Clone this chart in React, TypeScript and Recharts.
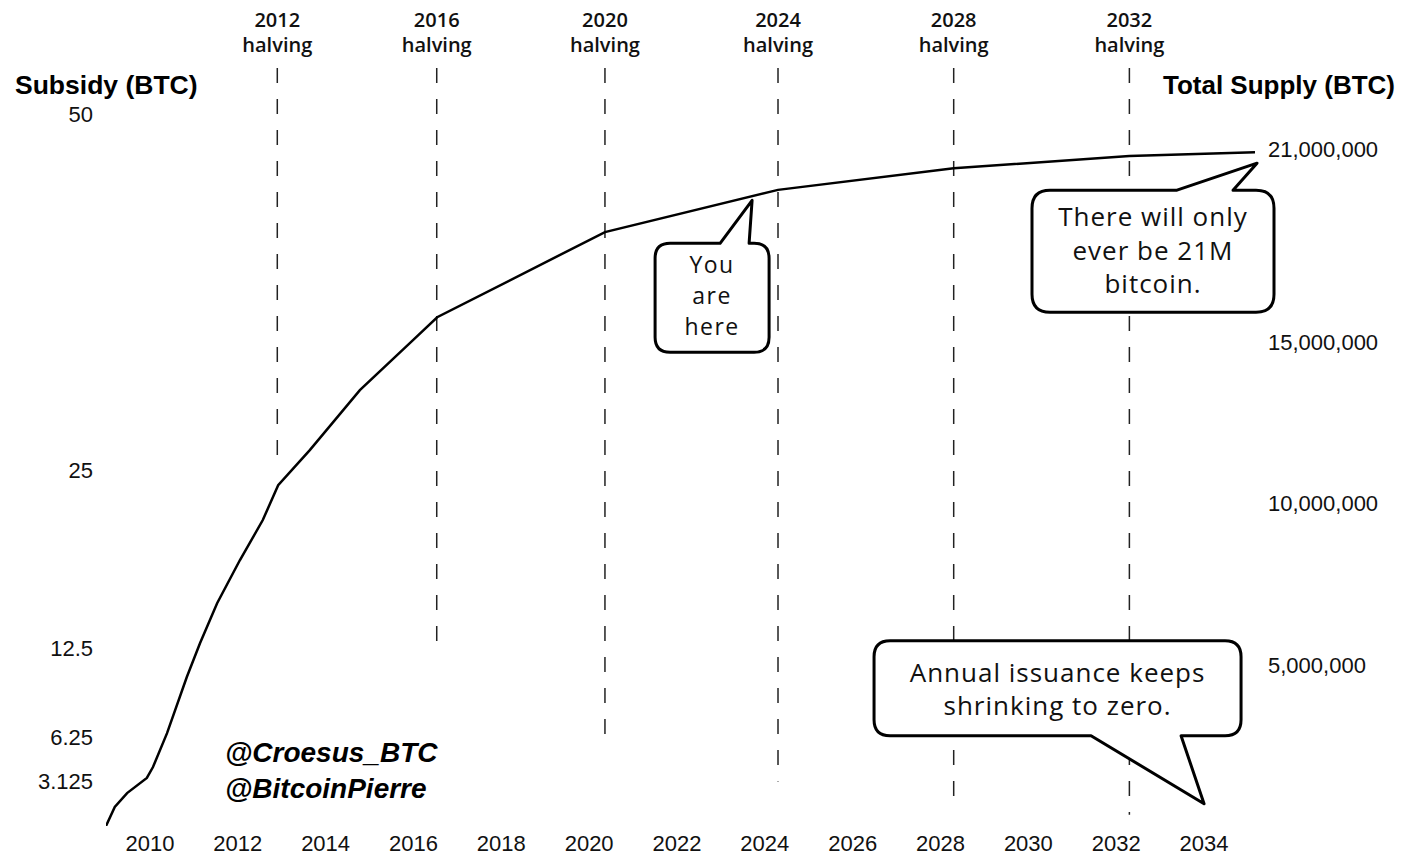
import React from 'react';
import { LineChart, Line, XAxis, YAxis, ReferenceLine, ReferenceDot } from 'recharts';

// Total supply curve (year, BTC)
const YEARS = [
  2009.0, 2009.2, 2009.48, 2009.93, 2010.07, 2010.39, 2010.84, 2011.14, 2011.53, 2012.05,
  2012.57, 2012.92, 2013.64, 2014.78, 2015.99, 2016.54, 2020.36, 2024.3, 2028.3, 2032.3, 2035.16,
];
const SUPPLY = [
  0, 590000, 1020000, 1490000, 1830000, 2880000, 4620000, 5670000, 6910000, 8250000,
  9490000, 10570000, 11660000, 13520000, 15070000, 15780000, 18420000, 19730000, 20400000, 20780000, 20900000,
];

const HALVING_YEARS = [2012.9, 2016.53, 2020.36, 2024.3, 2028.3, 2032.3];
const HALVING_LABELS = ['2012', '2016', '2020', '2024', '2028', '2032'];
const HALVING_SUBSIDY = [25, 12.5, 6.25, 3.125, 1.5625, 0.78125];

const YEAR_TICKS = [2010, 2012, 2014, 2016, 2018, 2020, 2022, 2024, 2026, 2028, 2030, 2032, 2034];
const SUBSIDY_TICKS = [3.125, 6.25, 12.5, 25, 50];
const SUPPLY_TICKS = [5000000, 10000000, 15000000, 21000000];

const X_DOMAIN = [2009, 2035.16];
const SUBSIDY_MAX = 53.23;
const SUPPLY_MAX = 23510000;

const data = YEARS.map((year, i) => ({ year, supply: SUPPLY[i] }));

const ROUND = '"Open Sans", "Noto Sans", sans-serif';
const ARIAL = '"Liberation Sans", Arial, sans-serif';

// rounded box with a tail on its top or bottom edge
const bubblePath = (l: number, t: number, r: number, b: number, rad: number,
  side: 'top' | 'bottom', baseA: number, baseB: number, tx: number, ty: number) => {
  if (side === 'top') {
    return `M${baseA},${t} L${l + rad},${t} Q${l},${t} ${l},${t + rad} L${l},${b - rad} Q${l},${b} ${l + rad},${b}` +
      ` L${r - rad},${b} Q${r},${b} ${r},${b - rad} L${r},${t + rad} Q${r},${t} ${r - rad},${t} L${baseB},${t} L${tx},${ty} Z`;
  }
  return `M${l + rad},${t} L${r - rad},${t} Q${r},${t} ${r},${t + rad} L${r},${b - rad} Q${r},${b} ${r - rad},${b}` +
    ` L${baseB},${b} L${tx},${ty} L${baseA},${b} L${l + rad},${b} Q${l},${b} ${l},${b - rad} L${l},${t + rad} Q${l},${t} ${l + rad},${t} Z`;
};

const bubbleText = { fontFamily: ROUND, fontSize: 26, letterSpacing: 1, fill: '#111' };

const HalvingLabel = (label: string) => (props: any) => (
  <g>
    <text x={props.cx} y={props.cy - 41} textAnchor="middle" fontFamily={ROUND} fontSize={20} fontWeight={600} fill="#111">{label}</text>
    <text x={props.cx} y={props.cy - 16} textAnchor="middle" fontFamily={ROUND} fontSize={20} fontWeight={600} fill="#111">halving</text>
  </g>
);

const HereBubble = (props: any) => {
  const tx = props.cx, ty = props.cy + 4;
  const l = tx - 97, r = tx + 17, t = ty + 43, b = ty + 152;
  const mid = (l + r) / 2;
  return (
    <g>
      <path d={bubblePath(l, t, r, b, 15, 'top', tx - 32, tx - 3, tx, ty)} fill="#fff" stroke="#000" strokeWidth={3} strokeLinejoin="round" />
      <text textAnchor="middle" {...bubbleText} fontSize={23} letterSpacing={1.5}>
        <tspan x={mid} y={t + 30}>You</tspan>
        <tspan x={mid} y={t + 61}>are</tspan>
        <tspan x={mid} y={t + 92}>here</tspan>
      </text>
    </g>
  );
};

const CapBubble = (props: any) => {
  const tx = props.cx + 2, ty = props.cy + 11;
  const l = tx - 225, r = tx + 17, t = ty + 27, b = ty + 149;
  const mid = (l + r) / 2;
  return (
    <g>
      <path d={bubblePath(l, t, r, b, 18, 'top', tx - 80, tx - 24, tx, ty)} fill="#fff" stroke="#000" strokeWidth={3} strokeLinejoin="round" />
      <text textAnchor="middle" {...bubbleText}>
        <tspan x={mid} y={t + 36}>There will only</tspan>
        <tspan x={mid} y={t + 70}>ever be 21M</tspan>
        <tspan x={mid} y={t + 103}>bitcoin.</tspan>
      </text>
    </g>
  );
};

const IssuanceBubble = (props: any) => {
  const tx = props.cx, ty = props.cy;
  const l = tx - 330, r = tx + 37, t = ty - 163, b = ty - 68;
  const mid = (l + r) / 2;
  return (
    <g>
      <path d={bubblePath(l, t, r, b, 16, 'bottom', tx - 113, tx - 23, tx, ty)} fill="#fff" stroke="#000" strokeWidth={3} strokeLinejoin="round" />
      <text textAnchor="middle" {...bubbleText}>
        <tspan x={mid} y={t + 41}>Annual issuance keeps</tspan>
        <tspan x={mid} y={t + 74}>shrinking to zero.</tspan>
      </text>
    </g>
  );
};

const tickStyle = { fill: '#111', fontSize: 22, fontFamily: ARIAL };

export default function App() {
  return (
    <div style={{ position: 'absolute', left: 0, top: 0, width: 1417, height: 855, background: '#fff' }}>
      <LineChart width={1417} height={855} data={data} margin={{ top: 68, right: 102, left: 46, bottom: 0 }}>
        <XAxis dataKey="year" type="number" domain={X_DOMAIN} ticks={YEAR_TICKS} allowDataOverflow
          axisLine={false} tickLine={false} tickSize={0} tickMargin={9} height={29} tick={tickStyle} />
        <YAxis yAxisId="left" orientation="left" type="number" domain={[0, SUBSIDY_MAX]} ticks={SUBSIDY_TICKS}
          allowDataOverflow width={60} axisLine={false} tickLine={false} tickSize={0} tickMargin={13} tick={tickStyle} />
        <YAxis yAxisId="right" orientation="right" type="number" domain={[0, SUPPLY_MAX]} ticks={SUPPLY_TICKS}
          allowDataOverflow width={60} axisLine={false} tickLine={false} tickSize={0} tickMargin={13} tick={tickStyle}
          tickFormatter={(v: number) => v.toLocaleString('en-US')} />
        {HALVING_YEARS.map((yr, i) => (
          <ReferenceLine key={`h-${i}`} yAxisId="left" ifOverflow="visible"
            segment={[{ x: yr, y: SUBSIDY_MAX }, { x: yr, y: HALVING_SUBSIDY[i] }]}
            stroke="#222" strokeWidth={1.5} strokeDasharray="15 16" />
        ))}
        {HALVING_YEARS.map((yr, i) => (
          <ReferenceDot key={`hl-${i}`} yAxisId="left" x={yr} y={SUBSIDY_MAX} ifOverflow="visible"
            shape={HalvingLabel(HALVING_LABELS[i])} />
        ))}
        <Line yAxisId="right" dataKey="supply" type="linear" stroke="#000" strokeWidth={2.5} dot={false} isAnimationActive={false} />
        <ReferenceDot yAxisId="right" x={2023.71} y={19530000} ifOverflow="visible" shape={HereBubble} />
        <ReferenceDot yAxisId="right" x={YEARS[YEARS.length - 1]} y={SUPPLY[SUPPLY.length - 1]} ifOverflow="visible" shape={CapBubble} />
        <ReferenceDot yAxisId="left" x={2034} y={1.5625} ifOverflow="visible" shape={IssuanceBubble} />
      </LineChart>
      <div style={{ position: 'absolute', left: 15, top: 70, fontFamily: ARIAL, fontWeight: 700, fontSize: 26.5, color: '#000', whiteSpace: 'nowrap' }}>
        Subsidy (BTC)
      </div>
      <div style={{ position: 'absolute', right: 22, top: 70, fontFamily: ARIAL, fontWeight: 700, fontSize: 26, color: '#000', whiteSpace: 'nowrap' }}>
        Total Supply (BTC)
      </div>
      <div style={{ position: 'absolute', left: 225, top: 735, fontFamily: ARIAL, fontWeight: 700, fontStyle: 'italic', fontSize: 28, lineHeight: '36px', color: '#000', whiteSpace: 'nowrap' }}>
        <div>@Croesus_BTC</div>
        <div>@BitcoinPierre</div>
      </div>
    </div>
  );
}
